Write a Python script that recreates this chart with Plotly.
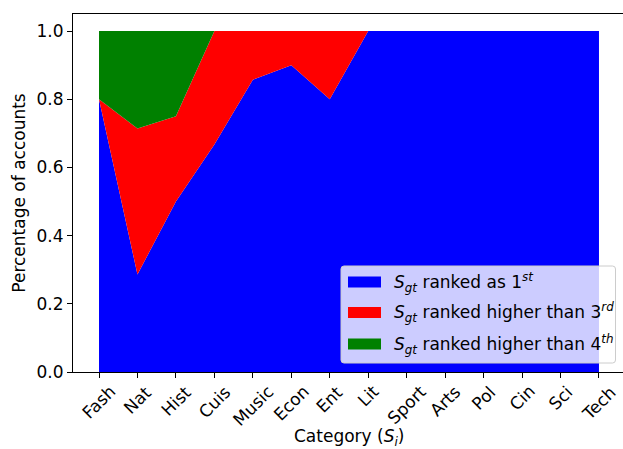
import plotly.graph_objects as go

# Categories on the x axis
categories = ["Fash", "Nat", "Hist", "Cuis", "Music", "Econ", "Ent", "Lit",
              "Sport", "Arts", "Pol", "Cin", "Sci", "Tech"]

# Share of accounts whose ground-truth category is ranked 1st
ranked_first = [0.8, 0.286, 0.5, 0.667, 0.857, 0.9, 0.8, 1.0,
                1.0, 1.0, 1.0, 1.0, 1.0, 1.0]
# Cumulative share ranked within the top 3
ranked_top3 = [0.8, 0.714, 0.75, 1.0, 1.0, 1.0, 1.0, 1.0,
               1.0, 1.0, 1.0, 1.0, 1.0, 1.0]
# Cumulative share ranked within the top 4
ranked_top4 = [1.0, 1.0, 1.0, 1.0, 1.0, 1.0, 1.0, 1.0,
               1.0, 1.0, 1.0, 1.0, 1.0, 1.0]

y_ticks = [0.0, 0.2, 0.4, 0.6, 0.8, 1.0]

series_names = [
    "<i>S</i><sub><i>gt</i></sub> ranked as 1<sup><i>st</i></sup>",
    "<i>S</i><sub><i>gt</i></sub> ranked higher than 3<sup><i>rd</i></sup>",
    "<i>S</i><sub><i>gt</i></sub> ranked higher than 4<sup><i>th</i></sup>",
]
colors = ["#0000ff", "#ff0000", "#008000"]

# Stack layers (increments between cumulative levels)
layer_first = ranked_first
layer_top3 = [b - a for a, b in zip(ranked_first, ranked_top3)]
layer_top4 = [b - a for a, b in zip(ranked_top3, ranked_top4)]
layers = [layer_first, layer_top3, layer_top4]

x = list(range(len(categories)))

FONT = "DejaVu Sans"
FS = 17

# Figure geometry (pixels)
W, H = 623, 449
ML, MR, MT, MB = 73, 0, 14, 77
PW, PH = W - ML - MR, H - MT - MB

fig = go.Figure()
for name, vals, col in zip(series_names, layers, colors):
    fig.add_trace(go.Scatter(
        x=x, y=vals, name=name, stackgroup="one", mode="none",
        fillcolor=col, line=dict(width=0), showlegend=False,
        hoverinfo="skip",
    ))

px_per_unit = 38.46
x0 = -0.676
x1 = x0 + PW / px_per_unit


def px_x(p):
    return (p - ML) / PW


def px_y(p):
    return (MT + PH - p) / PH


shapes = []
annotations = []

# Rotated category labels, centred under each tick
for xi, lab in zip(x, categories):
    annotations.append(dict(
        x=xi, y=0, xref="x", yref="paper", text=lab, showarrow=False,
        textangle=-45, xanchor="center", yanchor="top", yshift=-7,
        font=dict(family=FONT, size=FS, color="black"),
    ))

# X axis title
annotations.append(dict(
    x=0.5 * (px_x(ML) + px_x(ML + PW + 1)), y=px_y(437.5), xref="paper", yref="paper",
    text="Category (<i>S</i><sub><i>i</i></sub>)", showarrow=False,
    xanchor="center", yanchor="middle",
    font=dict(family=FONT, size=FS, color="black"),
))

# Legend box (rounded, semi-transparent white)
lx0, lx1, ly0, ly1 = 341, 615.5, 266, 363
r = 3
path = (
    f"M {px_x(lx0 + r)},{px_y(ly0)} L {px_x(lx1 - r)},{px_y(ly0)} "
    f"Q {px_x(lx1)},{px_y(ly0)} {px_x(lx1)},{px_y(ly0 + r)} "
    f"L {px_x(lx1)},{px_y(ly1 - r)} "
    f"Q {px_x(lx1)},{px_y(ly1)} {px_x(lx1 - r)},{px_y(ly1)} "
    f"L {px_x(lx0 + r)},{px_y(ly1)} "
    f"Q {px_x(lx0)},{px_y(ly1)} {px_x(lx0)},{px_y(ly1 - r)} "
    f"L {px_x(lx0)},{px_y(ly0 + r)} "
    f"Q {px_x(lx0)},{px_y(ly0)} {px_x(lx0 + r)},{px_y(ly0)} Z"
)
shapes.append(dict(
    type="path", path=path, xref="paper", yref="paper",
    fillcolor="rgba(255,255,255,0.8)", line=dict(color="#cccccc", width=1),
    layer="above",
))
row_centres = [282, 312.5, 344]
for name, col, yc in zip(series_names, colors, row_centres):
    shapes.append(dict(
        type="rect", xref="paper", yref="paper",
        x0=px_x(348), x1=px_x(381), y0=px_y(yc - 5.5), y1=px_y(yc + 5.5),
        fillcolor=col, line=dict(width=0), layer="above",
    ))
    annotations.append(dict(
        x=px_x(392), y=px_y(yc), xref="paper", yref="paper", text=name,
        showarrow=False, xanchor="left", yanchor="middle",
        font=dict(family=FONT, size=FS, color="black"),
    ))

fig.update_layout(
    width=W, height=H,
    margin=dict(l=ML, r=MR, t=MT, b=MB, pad=0),
    paper_bgcolor="white", plot_bgcolor="white",
    font=dict(family=FONT, size=FS, color="black"),
    shapes=shapes, annotations=annotations,
    xaxis=dict(
        range=[x0, x1], tickvals=x, showticklabels=False,
        ticks="outside", ticklen=5, tickwidth=1, tickcolor="black",
        showline=True, linecolor="black", linewidth=1, mirror=True,
        showgrid=False, zeroline=False, fixedrange=True,
    ),
    yaxis=dict(
        range=[0, 1.05], tickvals=y_ticks, tickformat=".1f",
        ticks="outside", ticklen=5, tickwidth=1, tickcolor="black",
        tickfont=dict(family=FONT, size=FS, color="black"),
        showline=True, linecolor="black", linewidth=1, mirror=False,
        showgrid=False, zeroline=False, fixedrange=True,
        title=dict(text="Percentage of accounts", standoff=6,
                   font=dict(family=FONT, size=FS, color="black")),
    ),
)

fig.write_html("out.html")
